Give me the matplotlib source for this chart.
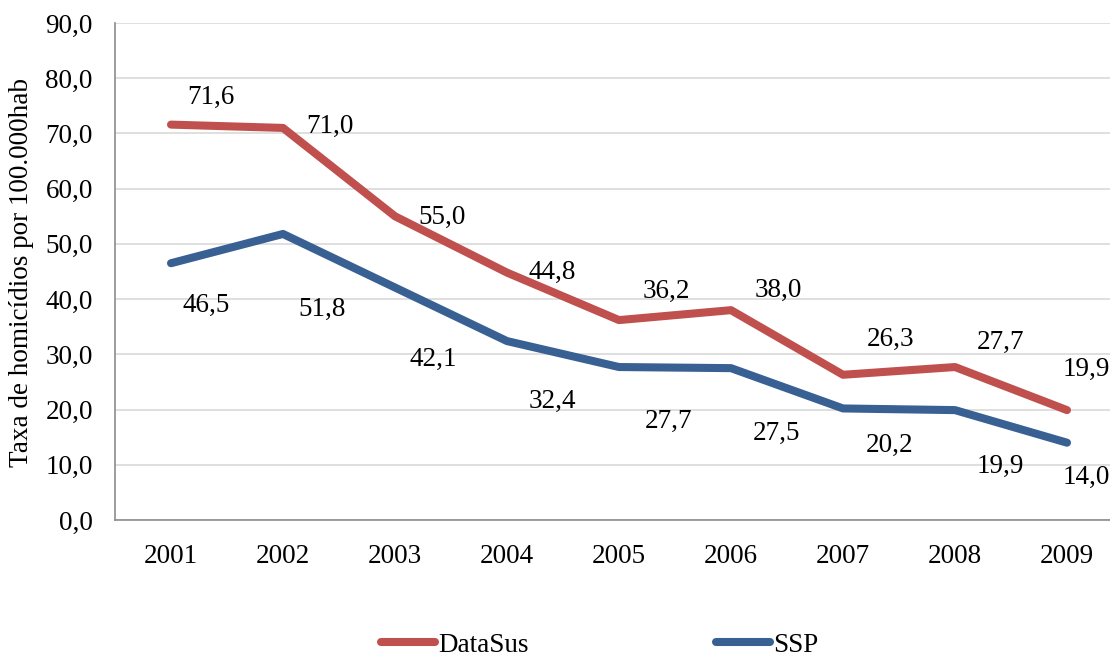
import matplotlib
matplotlib.use("Agg")
import matplotlib.pyplot as plt
from matplotlib.lines import Line2D

years = ["2001", "2002", "2003", "2004", "2005", "2006", "2007", "2008", "2009"]
datasus = [71.6, 71.0, 55.0, 44.8, 36.2, 38.0, 26.3, 27.7, 19.9]
ssp = [46.5, 51.8, 42.1, 32.4, 27.7, 27.5, 20.2, 19.9, 14.0]

# label offsets in pixels (dx right, dy up) relative to each point
datasus_offsets = [(40, 27), (47, 2), (47, -1), (45, 0), (47, 29),
                   (47, 20), (47, 35), (46, 25), (19, 41)]
ssp_offsets = [(35, -42), (39, -75), (38, -72), (45, -60), (50, -54),
               (45, -65), (47, -37), (45, -56), (19, -35)]

red = "#C0504D"
blue = "#386092"
FS = 19.5

plt.rcParams["font.family"] = ["Liberation Serif", "DejaVu Serif"]

fig = plt.figure(figsize=(11.1, 6.6), dpi=100)
W, H = 1110, 660
left, right, top, bottom = 115, 115 + 9 * 112, 23, 520
ax = fig.add_axes([left / W, (H - bottom) / H, (right - left) / W, (bottom - top) / H])

x = list(range(len(years)))
ax.plot(x, datasus, color=red, lw=5.8, solid_capstyle="round",
        solid_joinstyle="round", zorder=3)
ax.plot(x, ssp, color=blue, lw=5.8, solid_capstyle="round",
        solid_joinstyle="round", zorder=3)

for xi, v, off in zip(x, datasus, datasus_offsets):
    ax.annotate(f"{v:.1f}".replace(".", ","), (xi, v), xytext=off,
                textcoords="offset pixels", ha="center", va="center",
                fontsize=FS, color="black", zorder=4)
for xi, v, off in zip(x, ssp, ssp_offsets):
    ax.annotate(f"{v:.1f}".replace(".", ","), (xi, v), xytext=off,
                textcoords="offset pixels", ha="center", va="center",
                fontsize=FS, color="black", zorder=4)

ax.set_xlim(-0.5, len(years) - 0.5)
ax.set_ylim(0, 90)
ax.set_yticks(range(0, 91, 10))
ax.set_yticklabels([f"{t:.1f}".replace(".", ",") for t in range(0, 91, 10)], fontsize=FS)
ax.set_xticks(x)
ax.set_xticklabels(years, fontsize=FS)
ax.tick_params(length=0)
ax.tick_params(axis="y", pad=16)
ax.tick_params(axis="x", pad=17)

ax.grid(axis="y", color="#D9D9D9", lw=1.2, zorder=0)
ax.set_axisbelow(True)
for s in ("top", "right"):
    ax.spines[s].set_visible(False)
for s in ("left", "bottom"):
    ax.spines[s].set_color("#8C8C8C")
    ax.spines[s].set_linewidth(1.2)

fig.text(22 / W, 1 - 273 / H, "Taxa de homicídios por 100.000hab",
         rotation=90, ha="center", va="center", fontsize=FS)

handles = [Line2D([], [], color=red, lw=5.8, solid_capstyle="round"),
           Line2D([], [], color=blue, lw=5.8, solid_capstyle="round")]
fig.legend(handles, ["DataSus", "SSP"], loc="center", bbox_to_anchor=(600 / W, 1 - 645 / H),
           ncol=2, frameon=False, fontsize=FS, handlelength=2.0, handletextpad=0.12,
           columnspacing=6.9, borderpad=0.1)

fig.savefig("out.png", dpi=100)
